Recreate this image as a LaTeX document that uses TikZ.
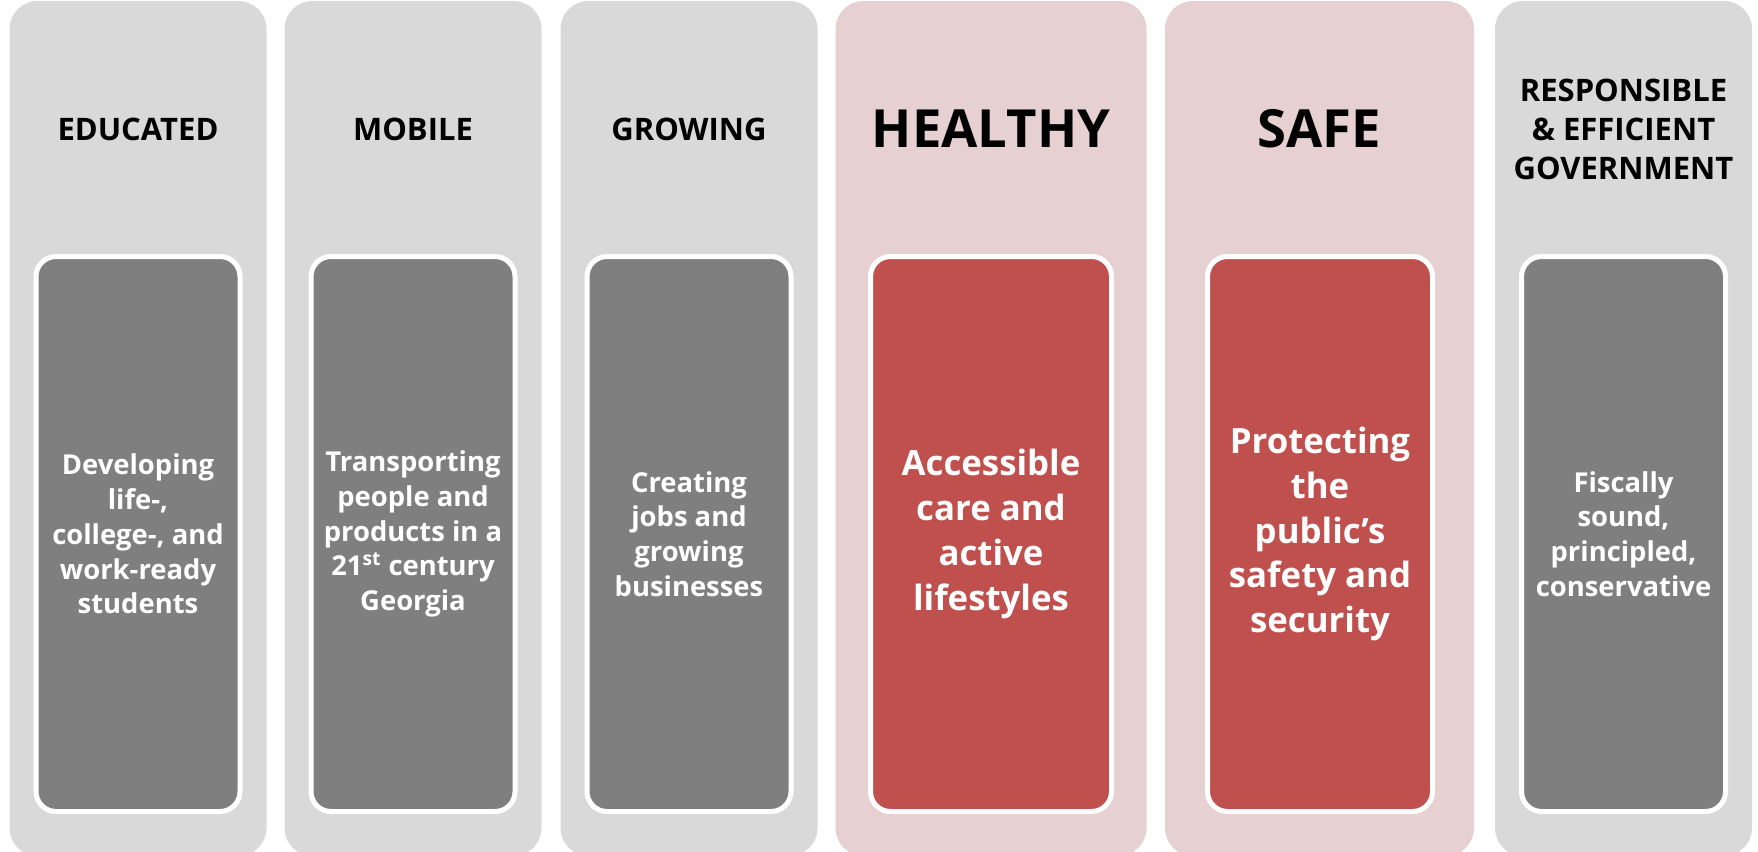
\documentclass[tikz,border=0pt]{standalone}
\usepackage{fontspec}
\setmainfont{Open Sans}
\definecolor{outergray}{HTML}{D9D9D9}
\definecolor{innergray}{HTML}{7F7F7F}
\definecolor{outerpink}{HTML}{E6D0D1}
\definecolor{innerred}{HTML}{C0504D}
\begin{document}
\begin{tikzpicture}[x=0.5pt,y=-0.5pt,
  outerbox/.style={fill=#1, rounded corners=14pt, inner sep=0pt, minimum height=427.5pt},
  innerbox/.style={fill=#1, draw=white, line width=2.5pt, rounded corners=10pt, inner sep=0pt,
    minimum height=277.5pt, align=center, text=white},
  smalltxt/.style={font=\bfseries\fontsize{13.7}{17.4}\selectfont},
  bigtxt/.style={font=\bfseries\fontsize{17.4}{22.4}\selectfont},
  titlesmall/.style={font=\bfseries\fontsize{15.5}{19.5}\selectfont, align=center, text=black},
  titlebig/.style={font=\bfseries\fontsize{26.3}{30}\selectfont, text=black}]
\clip (0,0) rectangle (1758,852);
% outer columns
\node[outerbox=outergray, minimum width=128.5pt] (c1) at (138,428.5) {};
\node[outerbox=outergray, minimum width=128.5pt] (c2) at (413,428.5) {};
\node[outerbox=outergray, minimum width=128.5pt] (c3) at (689,428.5) {};
\node[outerbox=outerpink, minimum width=155.5pt] (c4) at (991,428.5) {};
\node[outerbox=outerpink, minimum width=154.5pt] (c5) at (1319.5,428.5) {};
\node[outerbox=outergray, minimum width=128.5pt] (c6) at (1623.5,428.5) {};
% titles
\node[titlesmall] (t1) at (138,129) {EDUCATED};
\node[titlesmall] (t2) at (413,129) {MOBILE};
\node[titlesmall] (t3) at (689,129) {GROWING};
\node[titlebig] (t4) at (991,129) {HEALTHY};
\node[titlebig] (t5) at (1319.5,129) {SAFE};
\node[titlesmall] (t6) at (1623.5,129) {RESPONSIBLE\\\& EFFICIENT\\GOVERNMENT};
% inner boxes
\node[innerbox=innergray, smalltxt, minimum width=102pt] (i1) at (138,534)
  {Developing\\life-,\\college-, and\\work-ready\\students};
\node[innerbox=innergray, smalltxt, minimum width=102pt] (i2) at (413,534)
  {Transporting\\people and\\products in a\\21\textsuperscript{st} century\\Georgia};
\node[innerbox=innergray, smalltxt, minimum width=102pt] (i3) at (689,534)
  {Creating\\jobs and\\growing\\businesses};
\node[innerbox=innerred, bigtxt, minimum width=120.5pt] (i4) at (991,534)
  {Accessible\\care and\\active\\lifestyles};
\node[innerbox=innerred, bigtxt, minimum width=112.5pt] (i5) at (1320,534)
  {Protecting\\the\\public’s\\safety and\\security};
\node[innerbox=innergray, smalltxt, minimum width=102pt] (i6) at (1623.5,534)
  {Fiscally\\sound,\\principled,\\conservative};
\end{tikzpicture}
\end{document}
